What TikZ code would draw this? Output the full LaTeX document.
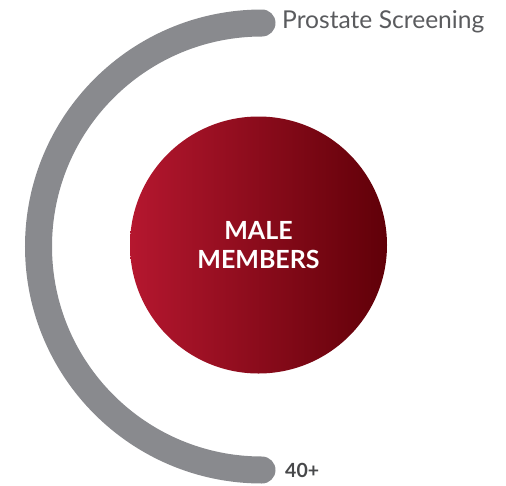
\documentclass[tikz,border=0pt]{standalone}
\usepackage{fontspec}
\setmainfont{Lato}
\usepackage{xcolor}
\usetikzlibrary{positioning}
\definecolor{bandgray}{HTML}{898A8E}
\definecolor{labelgray}{HTML}{5A5B5E}
\definecolor{agegray}{HTML}{47484A}
\definecolor{redlight}{HTML}{B5172F}
\definecolor{reddark}{HTML}{600008}

\begin{document}
\begin{tikzpicture}[x=1pt,y=-1pt,
  band/.style={draw=bandgray,line width=27pt,line cap=round},
  core/.style={circle,minimum size=257pt,inner sep=0pt,left color=redlight,
               right color=reddark,text=white,align=center,
               font=\fontsize{25}{29}\selectfont\bfseries},
  lbl/.style={anchor=base west,inner sep=0pt}]
\useasboundingbox (0,0) rectangle (506,485);
\coordinate (top) at (262,23);
\coordinate (bot) at (262,470);
\draw[band] (top) arc[start angle=-90,end angle=-270,radius=223.5];
\node[core] (male) at (258.5,245) {MALE\\MEMBERS};
\node[lbl,text=labelgray,font=\fontsize{24.6}{28}\selectfont] (screen) at (282,28) {Prostate Screening};
\node[lbl,text=agegray,font=\fontsize{19.5}{22}\selectfont\bfseries] (age) at (285,477) {40+};
\end{tikzpicture}
\end{document}
